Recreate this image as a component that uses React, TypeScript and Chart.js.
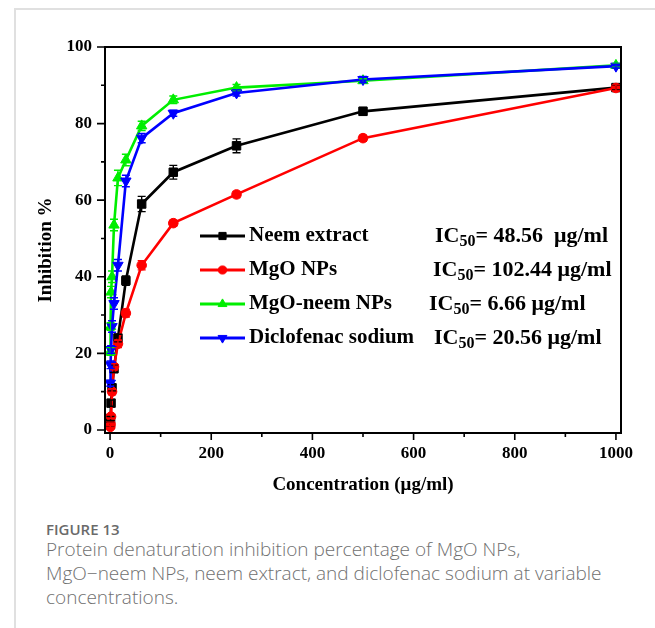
import { useEffect, useRef } from 'react';
import { Chart, registerables } from 'chart.js';
import { drawPoint } from 'chart.js/helpers';

Chart.register(...registerables);

// ---------------- DATA ----------------
const concentrations = [0.49, 0.98, 1.95, 3.9, 7.8, 15.6, 31.25, 62.5, 125, 250, 500, 1000];
const neemExtract = [1.5, 3, 7, 11, 16, 24, 39, 59, 67.3, 74.2, 83.2, 89.4];
const neemExtractErr = [0.5, 0.5, 0.8, 0.8, 1, 1, 1.2, 2, 1.8, 1.8, 1, 0.6];
const mgoNPs = [0.8, 1.5, 3.5, 10, 16.5, 22.5, 30.5, 43, 54, 61.5, 76.2, 89.3];
const mgoNPsErr = [0.3, 0.3, 0.5, 0.8, 0.8, 1, 1, 1.2, 0.8, 0.8, 0.8, 0.8];
const mgoNeemNPs = [20.5, 27, 36, 40, 53.5, 65.8, 70.5, 79.4, 86.2, 89.4, 91.2, 95.2];
const mgoNeemNPsErr = [1, 1, 1.5, 1.5, 1.5, 2, 1.5, 1.2, 1, 0.8, 0.5, 0.5];
const diclofenac = [12.2, 17, 21, 27, 33, 43, 65, 76.2, 82.7, 88, 91.5, 95];
const diclofenacErr = [0.8, 1, 1, 1.5, 1.5, 1.5, 1.5, 1.2, 0.8, 0.8, 0.8, 0.5];
const seriesNames = ['Neem extract', 'MgO NPs', 'MgO-neem NPs', 'Diclofenac sodium'];
const ic50Values = ['48.56 ', '102.44', '6.66', '20.56'];
const xTickValues = [0, 200, 400, 600, 800, 1000];
const xMinorTickValues = [100, 300, 500, 700, 900];
const yTickValues = [0, 20, 40, 60, 80, 100];
const yMinorTickValues = [10, 30, 50, 70, 90];

// ---------------- STYLE ----------------
const SERIF = "'Liberation Serif', 'Times New Roman', serif";
const seriesColors = ['#000000', '#ff0000', '#00ee00', '#0000ff'];
const seriesStyles: any[] = [
  { pointStyle: 'rect', radius: 6, rotation: 0 },
  { pointStyle: 'circle', radius: 4.8, rotation: 0 },
  { pointStyle: 'triangle', radius: 6, rotation: 0 },
  { pointStyle: 'triangle', radius: 6, rotation: 180 },
];
const seriesValues = [neemExtract, mgoNPs, mgoNeemNPs, diclofenac];
const seriesErrors = [neemExtractErr, mgoNPsErr, mgoNeemNPsErr, diclofenacErr];

const legendLayout = {
  lineX1: 200,
  lineX2: 245,
  textX: 249,
  rowY: [236, 270, 304, 338],
  icX: [435, 433, 429, 434],
};

const framePlugin = {
  id: 'frameAndExtras',
  afterDatasetsDraw(chart: any) {
    const ctx = chart.ctx;
    const xs = chart.scales.x;
    const ys = chart.scales.y;
    ctx.save();
    // error bars
    seriesValues.forEach((vals, i) => {
      ctx.strokeStyle = seriesColors[i];
      ctx.lineWidth = 1.4;
      vals.forEach((v, j) => {
        const e = seriesErrors[i][j];
        const px = xs.getPixelForValue(concentrations[j]);
        const pt = ys.getPixelForValue(v + e);
        const pb = ys.getPixelForValue(v - e);
        ctx.beginPath();
        ctx.moveTo(px, pt);
        ctx.lineTo(px, pb);
        ctx.moveTo(px - 4, pt);
        ctx.lineTo(px + 4, pt);
        ctx.moveTo(px - 4, pb);
        ctx.lineTo(px + 4, pb);
        ctx.stroke();
      });
    });
    ctx.restore();
  },
  afterDraw(chart: any) {
    const ctx = chart.ctx;
    const { left, right, top, bottom } = chart.chartArea;
    const xs = chart.scales.x;
    const ys = chart.scales.y;
    ctx.save();
    ctx.strokeStyle = '#000';
    ctx.lineWidth = 2;
    ctx.strokeRect(left, top, right - left, bottom - top);
    ctx.lineWidth = 1.6;
    ctx.beginPath();
    xTickValues.forEach((v) => {
      const p = xs.getPixelForValue(v);
      ctx.moveTo(p, bottom);
      ctx.lineTo(p, bottom + 7);
    });
    xMinorTickValues.forEach((v) => {
      const p = xs.getPixelForValue(v);
      ctx.moveTo(p, bottom);
      ctx.lineTo(p, bottom + 4);
    });
    yTickValues.forEach((v) => {
      const p = ys.getPixelForValue(v);
      ctx.moveTo(left, p);
      ctx.lineTo(left - 8, p);
    });
    yMinorTickValues.forEach((v) => {
      const p = ys.getPixelForValue(v);
      ctx.moveTo(left, p);
      ctx.lineTo(left - 4, p);
    });
    ctx.stroke();

    // y axis title
    ctx.fillStyle = '#000';
    ctx.font = `bold 19px ${SERIF}`;
    ctx.textAlign = 'center';
    ctx.textBaseline = 'middle';
    ctx.translate(46, 250);
    ctx.rotate(-Math.PI / 2);
    ctx.fillText('Inhibition %', 0, 0);
    ctx.setTransform(1, 0, 0, 1, 0, 0);

    // legend
    seriesNames.forEach((name, i) => {
      const y = legendLayout.rowY[i];
      ctx.strokeStyle = seriesColors[i];
      ctx.fillStyle = seriesColors[i];
      ctx.lineWidth = 3;
      ctx.beginPath();
      ctx.moveTo(legendLayout.lineX1, y);
      ctx.lineTo(legendLayout.lineX2, y);
      ctx.stroke();
      const st = seriesStyles[i];
      ctx.lineWidth = 1;
      drawPoint(ctx, { pointStyle: st.pointStyle, rotation: st.rotation, radius: st.radius * 0.85, borderWidth: 1 }, (legendLayout.lineX1 + legendLayout.lineX2) / 2, y);
      ctx.fillStyle = '#000';
      ctx.textAlign = 'left';
      ctx.textBaseline = 'middle';
      ctx.font = `bold 21px ${SERIF}`;
      ctx.fillText(name, legendLayout.textX, y);
      let x = legendLayout.icX[i];
      ctx.font = `bold 22px ${SERIF}`;
      ctx.fillText('IC', x, y);
      x += ctx.measureText('IC').width;
      ctx.font = `bold 16px ${SERIF}`;
      ctx.fillText('50', x, y + 6);
      x += ctx.measureText('50').width;
      ctx.font = `bold 22px ${SERIF}`;
      ctx.fillText(`= ${ic50Values[i]} μg/ml`, x, y);
    });
    ctx.restore();
  },
};

export default function App() {
  const canvasRef = useRef<HTMLCanvasElement | null>(null);

  useEffect(() => {
    if (!canvasRef.current) return;
    const datasets = seriesNames.map((name, i) => ({
      label: name,
      data: concentrations.map((c, j) => ({ x: c, y: seriesValues[i][j] })),
      borderColor: seriesColors[i],
      backgroundColor: seriesColors[i],
      borderWidth: 2.6,
      pointStyle: seriesStyles[i].pointStyle,
      pointRotation: seriesStyles[i].rotation,
      pointRadius: seriesStyles[i].radius,
      pointBorderWidth: 1,
      tension: 0,
      order: 3 - i,
    }));
    const chart = new Chart(canvasRef.current, {
      type: 'line',
      data: { datasets },
      options: {
        animation: false,
        responsive: false,
        layout: { padding: { left: 0, right: 34, top: 47, bottom: 0 } },
        plugins: { legend: { display: false }, tooltip: { enabled: false } },
        scales: {
          x: {
            type: 'linear',
            min: -10,
            max: 1010,
            afterBuildTicks: (s: any) => {
              s.ticks = xTickValues.map((v) => ({ value: v }));
            },
            afterFit: (s: any) => {
              s.height = 77;
            },
            grid: { display: false, drawTicks: true, tickLength: 7 },
            border: { display: false },
            ticks: {
              color: '#000',
              font: { family: SERIF, size: 17, weight: 'bold' },
              padding: 3,
              maxRotation: 0,
              autoSkip: false,
              callback: (v: any) => String(v),
            },
            title: {
              display: true,
              text: 'Concentration (μg/ml)',
              color: '#000',
              font: { family: SERIF, size: 19, weight: 'bold' },
              padding: { top: 0, bottom: 14 },
            },
          },
          y: {
            type: 'linear',
            min: -0.8,
            max: 100,
            afterBuildTicks: (s: any) => {
              s.ticks = yTickValues.map((v) => ({ value: v }));
            },
            afterFit: (s: any) => {
              s.width = 105;
            },
            grid: { display: false, drawTicks: true, tickLength: 8 },
            border: { display: false },
            ticks: {
              color: '#000',
              font: { family: SERIF, size: 17, weight: 'bold' },
              padding: 5,
              autoSkip: false,
              callback: (v: any) => String(v),
            },
          },
        },
      } as any,
      plugins: [framePlugin],
    });
    return () => chart.destroy();
  }, []);

  return (
    <div style={{ position: 'absolute', left: 0, top: 0, width: 655, height: 628, background: '#fff', overflow: 'hidden' }}>
      <div
        style={{
          position: 'absolute',
          left: 14,
          top: 8,
          width: 660,
          height: 640,
          borderLeft: '2px solid #e0e0e0',
          borderTop: '2px solid #e0e0e0',
        }}
      />
      <canvas ref={canvasRef} width={655} height={510} style={{ position: 'absolute', left: 0, top: 0, width: 655, height: 510 }} />
      <div
        style={{
          position: 'absolute',
          left: 46,
          top: 518,
          fontFamily: "'Open Sans', 'Noto Sans', sans-serif",
          fontWeight: 600,
          fontSize: 15,
          lineHeight: '22px',
          color: '#6a6a6a',
          whiteSpace: 'nowrap',
        }}
      >
        FIGURE 13
      </div>
      <div
        style={{
          position: 'absolute',
          left: 46,
          top: 537,
          width: 605,
          fontFamily: "'Open Sans', 'Noto Sans', sans-serif",
          fontWeight: 300,
          fontSize: 19,
          lineHeight: '24px',
          color: '#707070',
          whiteSpace: 'nowrap',
        }}
      >
        Protein denaturation inhibition percentage of MgO NPs,
        <br />
        MgO−neem NPs, neem extract, and diclofenac sodium at variable
        <br />
        concentrations.
      </div>
    </div>
  );
}
